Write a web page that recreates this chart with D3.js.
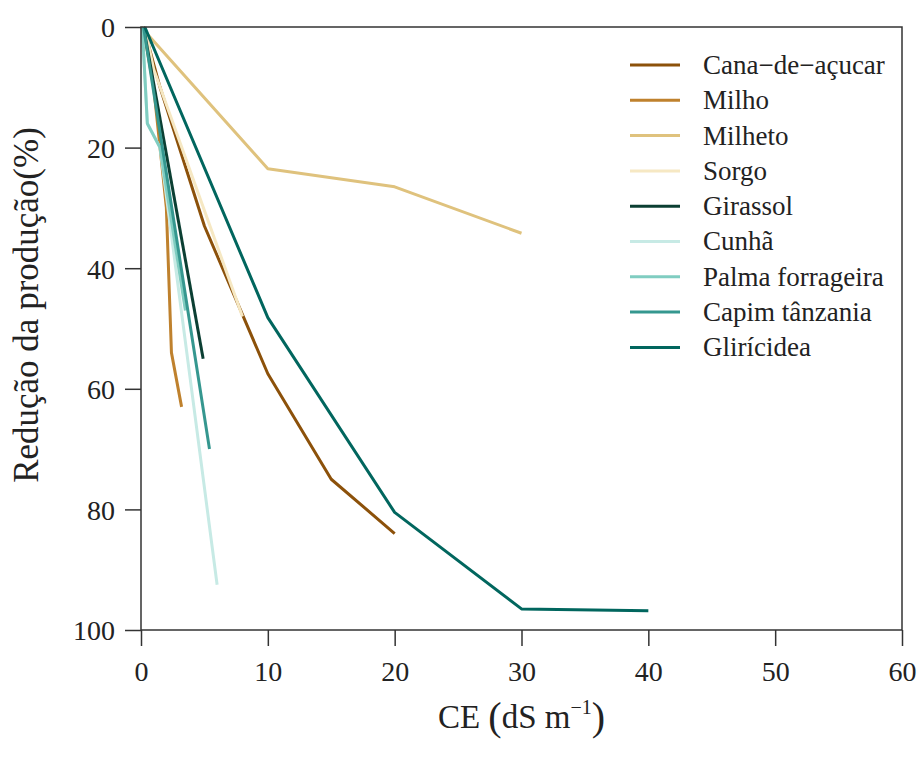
<!DOCTYPE html>
<html>
<head>
	<meta charset="utf-8">
	<script src="https://d3js.org/d3.v7.min.js"></script>
	<title>Redução da produção</title>
	<style>
		body { margin: 0; background: #fff; }
		text { font-family: "Liberation Serif", "DejaVu Serif", serif; fill: #222; }
	</style>
</head>
<body>
	<div id="chart"></div>

	<script type="text/javascript">

		// data: [CE, reduction %] for each crop
		var names = ["Cana\u2212de\u2212açucar", "Milho", "Milheto", "Sorgo", "Girassol",
		             "Cunhã", "Palma forrageira", "Capim tânzania", "Glirícidea"];
		var colors = ["#8c510a", "#bf812d", "#dfc27d", "#f6e8c3", "#0b3f33",
		              "#c7eae5", "#80cdc1", "#35978f", "#01665e"];

		var cana     = [[0.2, 0], [1.5, 10], [5, 33], [10, 57.5], [15, 75], [20, 84]];
		var milho    = [[0.2, 0], [0.5, 4], [1, 10], [2, 30], [2.4, 54], [3.2, 63]];
		var milheto  = [[0, 0], [10, 23.5], [20, 26.5], [30, 34.2]];
		var sorgo    = [[0.3, 0], [1, 7], [8, 48]];
		var girassol = [[0.2, 0], [4.9, 55]];
		var cunha    = [[0.1, 0], [0.5, 16], [1.5, 20], [6, 92.5]];
		var palma    = [[0.1, 0], [0.5, 16], [1.5, 20], [3.5, 47]];
		var capim    = [[0.2, 0], [5.4, 70]];
		var gliricidea = [[0.3, 0], [10, 48.2], [20, 80.5], [30, 96.5], [40, 96.8]];

		var series = [cana, milho, milheto, sorgo, girassol, cunha, palma, capim, gliricidea];

		var xTicks = [0, 10, 20, 30, 40, 50, 60];
		var yTicks = [0, 20, 40, 60, 80, 100];

		var svgwidth = 922;
		var svgheight = 762;
		// plot box (don't call these top/left: window.top is read-only)
		var plotL = 141, plotR = 902, plotT = 27, plotB = 630;

		var xScale = d3.scaleLinear().domain([0, 60]).range([plotL, plotR]);
		var yScale = d3.scaleLinear().domain([0, 100]).range([plotT, plotB]);

		var svg = d3.select("#chart").append("svg")
			.attr("width", svgwidth)
			.attr("height", svgheight);

		// lines first, frame drawn over them
		var line = d3.line()
			.x(function(d){ return xScale(d[0]); })
			.y(function(d){ return yScale(d[1]); });

		svg.selectAll(".crop")
			.data(series).enter().append("path")
			.attr("class", "crop")
			.attr("d", line)
			.attr("fill", "none")
			.attr("stroke", function(d, i){ return colors[i]; })
			.attr("stroke-width", 3)
			.attr("stroke-linejoin", "round");

		// frame
		svg.append("rect")
			.attr("x", plotL).attr("y", plotT)
			.attr("width", plotR - plotL).attr("height", plotB - plotT)
			.attr("fill", "none")
			.attr("stroke", "#333")
			.attr("stroke-width", 1.5);

		var xAxis = d3.axisBottom(xScale).tickValues(xTicks).tickSize(16).tickPadding(10);
		var yAxis = d3.axisLeft(yScale).tickValues(yTicks).tickSize(16).tickPadding(10);

		var gx = svg.append("g")
			.attr("transform", "translate(0," + plotB + ")")
			.call(xAxis);
		var gy = svg.append("g")
			.attr("transform", "translate(" + plotL + ",0)")
			.call(yAxis);

		[gx, gy].forEach(function(g){
			g.select(".domain").remove();
			g.selectAll(".tick line").attr("stroke", "#333").attr("stroke-width", 1.5);
			g.selectAll(".tick text")
				.attr("font-family", "Liberation Serif")
				.attr("font-size", 28)
				.attr("fill", "#222");
		});
		gx.selectAll(".tick text").attr("dy", "0.9em");
		gy.selectAll(".tick text").attr("dy", "0.35em");

		// axis titles
		var xTitle = svg.append("text")
			.attr("x", (plotL + plotR) / 2)
			.attr("y", 728)
			.attr("text-anchor", "middle")
			.attr("font-size", 33);
		xTitle.append("tspan").text("CE ");
		xTitle.append("tspan").attr("font-size", 40).attr("dy", 2).text("(");
		xTitle.append("tspan").attr("dy", -2).text("dS m");
		xTitle.append("tspan").attr("font-size", 20).attr("dy", -14).text("\u22121");
		xTitle.append("tspan").attr("font-size", 40).attr("dy", 16).text(")");

		svg.append("text")
			.attr("transform", "translate(38,305) rotate(-90)")
			.attr("text-anchor", "middle")
			.attr("font-size", 35)
			.text("Redução da produção(%)");

		// legend
		var legend = svg.selectAll(".legend")
			.data(names).enter().append("g")
			.attr("class", "legend")
			.attr("transform", function(d, i){ return "translate(630," + (65 + i * 35.3) + ")"; });

		legend.append("line")
			.attr("x1", 0).attr("x2", 50)
			.attr("stroke", function(d, i){ return colors[i]; })
			.attr("stroke-width", 3);

		legend.append("text")
			.attr("x", 73)
			.attr("dy", "0.33em")
			.attr("font-size", 27)
			.text(function(d){ return d; });

	</script>
</body>
</html>
